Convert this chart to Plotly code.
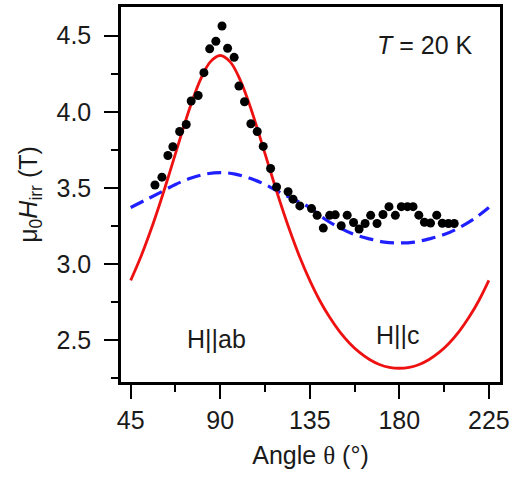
import plotly.graph_objects as go

# Measured data points (angle in degrees, mu0*Hirr in T)
angle_pts = [57.2, 60.7, 63.7, 66.2, 69.6, 72.9, 75.4, 78.9, 81.8, 84.7, 87.8, 90.9,
             93.7, 97.0, 99.4, 102.2, 105.4, 108.6, 111.6, 115.3, 118.3, 124.1, 126.6,
             130.0, 135.9, 138.7, 141.8, 145.0, 147.8, 150.8, 153.8, 157.0, 159.8,
             162.8, 165.6, 168.8, 171.8, 174.8, 178.0, 181.0, 184.1, 186.9, 189.8,
             192.6, 195.7, 198.8, 201.6, 204.7, 207.6]
hirr_pts = [3.518, 3.570, 3.712, 3.770, 3.870, 3.916, 4.071, 4.107, 4.257, 4.414, 4.464, 4.564,
            4.418, 4.358, 4.169, 4.066, 3.921, 3.870, 3.772, 3.627, 3.505, 3.474, 3.425,
            3.381, 3.363, 3.319, 3.235, 3.319, 3.322, 3.250, 3.320, 3.272, 3.229,
            3.265, 3.319, 3.265, 3.324, 3.376, 3.319, 3.376, 3.376, 3.376, 3.320,
            3.273, 3.268, 3.320, 3.267, 3.265, 3.265]

# Red curve
angle_red = [45, 50, 55, 60, 65, 70, 75, 80, 85, 90, 95, 100, 105, 110, 115, 120, 125, 130,
             135, 140, 145, 150, 155, 160, 165, 170, 175, 180, 185, 190, 195, 200, 205,
             210, 215, 220, 225]
hirr_red = [2.891, 3.043, 3.217, 3.410, 3.618, 3.832, 4.036, 4.210, 4.328, 4.370, 4.328,
            4.210, 4.036, 3.832, 3.618, 3.410, 3.217, 3.043, 2.891, 2.759, 2.648, 2.554,
            2.478, 2.417, 2.371, 2.338, 2.319, 2.313, 2.319, 2.338, 2.371, 2.417, 2.478,
            2.554, 2.648, 2.759, 2.891]

# Blue dashed curve
angle_blue = [45, 52.5, 60, 67.5, 75, 82.5, 90, 97.5, 105, 112.5, 120, 127.5, 135, 142.5,
              150, 157.5, 165, 172.5, 180, 187.5, 195, 202.5, 210, 217.5, 225]
hirr_blue = [3.370, 3.420, 3.470, 3.522, 3.562, 3.590, 3.600, 3.590, 3.562, 3.522, 3.470,
             3.420, 3.370, 3.295, 3.237, 3.192, 3.164, 3.143, 3.137, 3.143, 3.164, 3.192,
             3.237, 3.295, 3.370]

x_ticks = [45, 90, 135, 180, 225]
y_ticks = [2.5, 3.0, 3.5, 4.0, 4.5]
y_tick_labels = ["2.5", "3.0", "3.5", "4.0", "4.5"]

FONT = "Arial, Liberation Sans, sans-serif"
FS = 25
TXT = "#1a1a1a"

fig = go.Figure()
fig.add_trace(go.Scatter(x=angle_blue, y=hirr_blue, mode="lines", line_shape="spline",
                         line=dict(color="#1f1fff", width=3.2, dash="14px,7px"),
                         hoverinfo="skip"))
fig.add_trace(go.Scatter(x=angle_red, y=hirr_red, mode="lines", line_shape="spline",
                         line=dict(color="#ee1111", width=2.8), hoverinfo="skip"))
fig.add_trace(go.Scatter(x=angle_pts, y=hirr_pts, mode="markers",
                         marker=dict(color="black", size=9, line=dict(width=0))))

axis_common = dict(showline=True, linecolor="black", linewidth=2.5, mirror=True,
                   ticks="outside", ticklen=14, tickwidth=2.2, tickcolor="black",
                   showgrid=False, zeroline=False,
                   tickfont=dict(family=FONT, size=FS, color=TXT))

fig.update_xaxes(range=[40.13, 230.6], tickvals=x_ticks, ticktext=[str(v) for v in x_ticks],
                 minor=dict(ticks="outside", ticklen=7, tickwidth=2.2, tickcolor="black",
                            tick0=22.5, dtick=45),
                 ticklabelstandoff=0,
                 title=dict(text='Angle <span style="font-family:Liberation Serif">θ</span> (°)',
                            font=dict(family=FONT, size=FS, color=TXT), standoff=14),
                 **axis_common)
fig.update_yaxes(range=[2.2227, 4.689], tickvals=y_ticks, ticktext=y_tick_labels,
                 minor=dict(ticks="outside", ticklen=7, tickwidth=2.2, tickcolor="black",
                            tick0=2.25, dtick=0.5),
                 ticklabelstandoff=8,
                 title=dict(text="μ<sub>0</sub><i>H</i><sub>irr</sub> (T)",
                            font=dict(family=FONT, size=FS, color=TXT), standoff=12),
                 **axis_common)

fig.add_annotation(x=217.8, y=4.438, text="<i>T</i> = 20 K", showarrow=False,
                   xanchor="right", yanchor="middle",
                   font=dict(family=FONT, size=FS, color=TXT))
fig.add_annotation(x=88.3, y=2.505, text="H||ab", showarrow=False,
                   xanchor="center", yanchor="middle",
                   font=dict(family=FONT, size=FS, color=TXT))
fig.add_annotation(x=179.2, y=2.53, text="H||c", showarrow=False,
                   xanchor="center", yanchor="middle",
                   font=dict(family=FONT, size=FS, color=TXT))

fig.update_layout(width=514, height=477, margin=dict(l=121, r=13.5, t=4.5, b=94.5),
                  plot_bgcolor="white", paper_bgcolor="white", showlegend=False)

fig.write_html("out.html", config={"displayModeBar": False},
               post_script="document.body.style.margin='0';")
